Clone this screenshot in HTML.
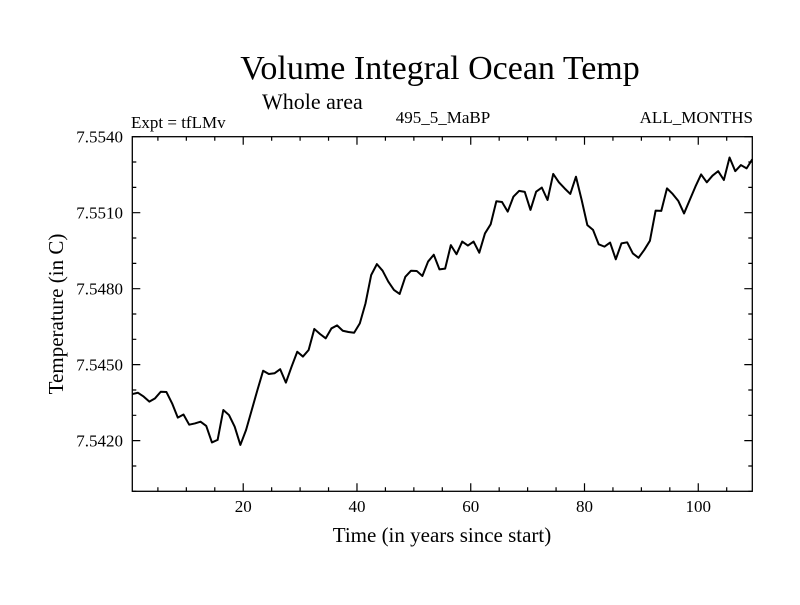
<!DOCTYPE html>
<html><head><meta charset="utf-8"><style>
body{margin:0;background:#fff}
svg text{font-family:"Liberation Serif",serif;fill:#000}
</style></head><body>
<svg id="chart" width="800" height="600" viewBox="0 0 800 600">
<text x="440" y="79" font-size="34" text-anchor="middle">Volume Integral Ocean Temp</text>
<text x="262" y="109" font-size="22">Whole area</text>
<text x="131" y="128" font-size="17">Expt = tfLMv</text>
<text x="443" y="123" font-size="17" text-anchor="middle">495_5_MaBP</text>
<text x="753" y="123" font-size="17" text-anchor="end">ALL_MONTHS</text>
<text x="442" y="542" font-size="21" text-anchor="middle">Time (in years since start)</text>
<text transform="translate(63,314) rotate(-90)" font-size="21" text-anchor="middle">Temperature (in C)</text>
<g id="axes"></g>
<g id="marks"></g>
</svg>
<script>
const yTicks=[7.5420,7.5450,7.5480,7.5510,7.5540];
const xTicks=[20,40,60,80,100];
const temps=[7.54384,7.54389,7.54374,7.54354,7.54367,7.54393,7.54392,7.54347,7.54291,7.54303,
7.54263,7.54268,7.54275,7.54258,7.54193,7.54203,7.54321,7.54301,7.54255,7.54183,
7.54242,7.54321,7.54400,7.54476,7.54463,7.54466,7.54482,7.54429,7.54492,7.54551,
7.54532,7.54558,7.54641,7.54621,7.54604,7.54643,7.54655,7.54634,7.54629,7.54626,
7.54663,7.54742,7.54854,7.54897,7.54871,7.54828,7.54795,7.54779,7.54847,7.54871,
7.54870,7.54850,7.54907,7.54934,7.54876,7.54879,7.54972,7.54936,7.54986,7.54970,
7.54986,7.54942,7.55018,7.55054,7.55145,7.55142,7.55104,7.55163,7.55186,7.55182,
7.55111,7.55183,7.55199,7.55150,7.55253,7.55220,7.55196,7.55174,7.55242,7.55150,
7.55051,7.55032,7.54975,7.54966,7.54982,7.54916,7.54979,7.54983,7.54939,7.54922,
7.54953,7.54989,7.55108,7.55107,7.55196,7.55174,7.55146,7.55097,7.55150,7.55203,
7.55251,7.55220,7.55246,7.55264,7.55229,7.55318,7.55264,7.55288,7.55275,7.55311];
const L=132.3,R=752.3,T=136.7,B=491.3;
const xMin=0.5,xMax=109.5,yMin=7.5400,yMax=7.5540;
const xs=v=>L+(v-xMin)/(xMax-xMin)*(R-L);
const ys=v=>B-(v-yMin)/(yMax-yMin)*(B-T);
const NS='http://www.w3.org/2000/svg';
const axes=document.getElementById('axes'),marks=document.getElementById('marks');
function mk(tag,attrs,parent){const e=document.createElementNS(NS,tag);for(const k in attrs)e.setAttribute(k,attrs[k]);parent.appendChild(e);return e;}
const frame=mk('rect',{x:L,y:T,width:R-L,height:B-T,fill:'none',stroke:'#000','stroke-width':1.3},axes);


let d='';
for(let v=5;v<=xMax;v+=5){const x=xs(v);const len=(v%20===0)?8:4;d+=`M${x},${B}v${-len}M${x},${T}v${len}`;}
for(let i=0;i<=14;i++){const v=yMin+i*0.001;const y=ys(v);const len=(i%3===2)?8:4;d+=`M${L},${y}h${len}M${R},${y}h${-len}`;}
const tk=mk('path',{d:d,stroke:'#000','stroke-width':1.2,fill:'none'},axes);


yTicks.forEach(v=>{const t=mk('text',{x:123,y:ys(v)+6,'font-size':17,'text-anchor':'end'},axes);t.textContent=v.toFixed(4);

});
xTicks.forEach(v=>{const t=mk('text',{x:xs(v),y:512,'font-size':17,'text-anchor':'middle'},axes);t.textContent=v;

});
const pts=temps.map((v,i)=>xs(i+0.5).toFixed(2)+','+ys(v).toFixed(2)).join(' ');
const line=mk('polyline',{points:pts,fill:'none',stroke:'#000','stroke-width':2,'stroke-linejoin':'round'},marks);


</script>
</body></html>
